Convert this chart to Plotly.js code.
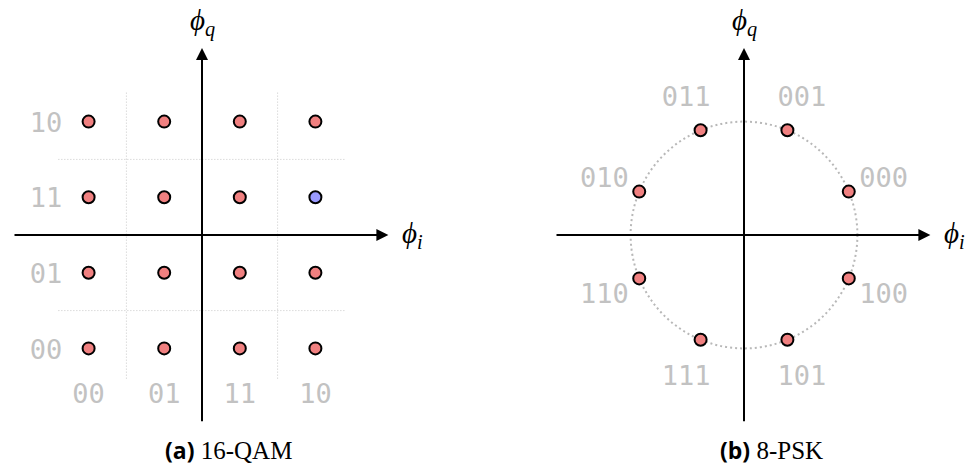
<!DOCTYPE html>
<html>
<head>
<meta charset="utf-8">
<script src="https://cdn.plot.ly/plotly-3.0.1.min.js"></script>
<style>html,body{margin:0;padding:0;background:#fff;}#chart{width:974px;height:473px;}</style>
</head>
<body>
<div id="chart"></div>
<script>
// ---- data ----
const qamI = [-3, -1, 1, 3];
const qamQ = [3, 1, -1, -3];
const qamRowLabels = ['10', '11', '01', '00'];   // one per qamQ
const qamColLabels = ['00', '01', '11', '10'];   // one per qamI
const qamHighlightI = [3];
const qamHighlightQ = [1];
const qamGrid = [-2, 2];

const pskAnglesDeg = [22.5, 67.5, 112.5, 157.5, 202.5, 247.5, 292.5, 337.5];
const pskLabels = ['000', '001', '011', '010', '110', '111', '101', '100'];
const pskRadius = 3;
const pskLabelRadius = 4;

// ---- build ----
const S = 37.8; // px per unit
const W = 974, H = 473;
const cLx = 202, cRx = 744, cY = 235;
const textDy = -3.5 / S; // small optical shift for text baseline

const coral = '#f08080', blue = '#9a9aff', gray = '#c2c2c2';
const monoFont = {family: 'DejaVu Sans Mono, monospace', size: 27, color: gray};

// QAM points
const qx = [], qy = [], qcol = [];
qamQ.forEach(q => qamI.forEach(i => {
  qx.push(i); qy.push(q);
  let hl = false;
  qamHighlightI.forEach((hi, k) => { if (hi === i && qamHighlightQ[k] === q) hl = true; });
  qcol.push(hl ? blue : coral);
}));

const px = pskAnglesDeg.map(a => pskRadius * Math.cos(a * Math.PI / 180));
const py = pskAnglesDeg.map(a => pskRadius * Math.sin(a * Math.PI / 180));
const plx = pskAnglesDeg.map(a => pskLabelRadius * Math.cos(a * Math.PI / 180));
const ply = pskAnglesDeg.map(a => pskLabelRadius * Math.sin(a * Math.PI / 180) + textDy);

const marker = c => ({size: 12, color: c, line: {color: '#000', width: 2}});

const traces = [
  {x: qamRowLabels.map(() => -4.13), y: qamQ.map(q => q + textDy), text: qamRowLabels, mode: 'text',
   textfont: monoFont, xaxis: 'x', yaxis: 'y', hoverinfo: 'skip'},
  {x: qamI, y: qamColLabels.map(() => -4.17 + textDy), text: qamColLabels, mode: 'text',
   textfont: monoFont, xaxis: 'x', yaxis: 'y', hoverinfo: 'skip'},
  {x: qx, y: qy, mode: 'markers', marker: marker(qcol), xaxis: 'x', yaxis: 'y'},
  {x: plx, y: ply, text: pskLabels, mode: 'text', textfont: monoFont,
   xaxis: 'x2', yaxis: 'y2', hoverinfo: 'skip'},
  {x: px, y: py, mode: 'markers', marker: marker(coral), xaxis: 'x2', yaxis: 'y2'}
];

const yr = [-(H - cY) / S, cY / S];
const hidden = {visible: false, showgrid: false, zeroline: false, fixedrange: true};
const layout = {
  width: W, height: H, margin: {l: 0, r: 0, t: 0, b: 0},
  paper_bgcolor: '#fff', plot_bgcolor: 'rgba(0,0,0,0)', showlegend: false,
  xaxis: Object.assign({domain: [0, 0.5], range: [-cLx / S, (W / 2 - cLx) / S]}, hidden),
  yaxis: Object.assign({domain: [0, 1], range: yr, anchor: 'x'}, hidden),
  xaxis2: Object.assign({domain: [0.5, 1], range: [-(cRx - W / 2) / S, (W - cRx) / S], anchor: 'y2'}, hidden),
  yaxis2: Object.assign({domain: [0, 1], range: yr, anchor: 'x2'}, hidden),
  shapes: [],
  annotations: []
};

const gridLine = {color: '#c8c8c8', width: 1, dash: '1px,2px'};
qamGrid.forEach(g => {
  layout.shapes.push({type: 'line', xref: 'x', yref: 'y', x0: g, x1: g, y0: -3.8, y1: 3.8, line: gridLine, layer: 'below'});
  layout.shapes.push({type: 'line', xref: 'x', yref: 'y', y0: g, y1: g, x0: -3.8, x1: 3.8, line: gridLine, layer: 'below'});
});
layout.shapes.push({type: 'circle', xref: 'x2', yref: 'y2', x0: -pskRadius, x1: pskRadius, y0: -pskRadius, y1: pskRadius,
  line: {color: '#b8b8b8', width: 2, dash: '2px,3px'}, layer: 'below'});

function arrow(xr, yr, x, y, ax, ay) {
  layout.annotations.push({xref: xr, yref: yr, axref: xr, ayref: yr, x: x, y: y, ax: ax, ay: ay,
    text: '', showarrow: true, arrowhead: 2, arrowsize: 1.2, arrowwidth: 2, arrowcolor: '#000', standoff: 0, startstandoff: 0});
}
const phiFont = {family: 'Liberation Serif, DejaVu Serif, serif', size: 29, color: '#000'};
[['x', 'y'], ['x2', 'y2']].forEach(([xr, yr2]) => {
  arrow(xr, yr2, 4.93, 0, -5, 0);
  arrow(xr, yr2, 0, 4.95, 0, -4.97);
  layout.annotations.push({xref: xr, yref: yr2, x: 5.25, y: 0, xanchor: 'left', yanchor: 'middle',
    text: '<i>ϕ<sub>i</sub></i>', showarrow: false, font: phiFont});
  layout.annotations.push({xref: xr, yref: yr2, x: 0, y: 5.62, xanchor: 'center', yanchor: 'middle',
    text: '<i>ϕ<sub>q</sub></i>', showarrow: false, font: phiFont});
});

const capFont = {family: 'Liberation Serif, DejaVu Serif, serif', size: 25, color: '#000'};
const boldSpan = s => '<span style="font-family:\'Open Sans\',sans-serif;font-weight:bold;font-size:23px">' + s + '</span>';
layout.annotations.push({xref: 'paper', yref: 'paper', x: 228.5 / W, y: 1 - 450 / H, xanchor: 'center', yanchor: 'middle',
  text: boldSpan('(a)') + ' 16-QAM', showarrow: false, font: capFont});
layout.annotations.push({xref: 'paper', yref: 'paper', x: 771 / W, y: 1 - 450 / H, xanchor: 'center', yanchor: 'middle',
  text: boldSpan('(b)') + ' 8-PSK', showarrow: false, font: capFont});

Plotly.newPlot('chart', traces, layout, {staticPlot: true, displayModeBar: false});
</script>
</body>
</html>
